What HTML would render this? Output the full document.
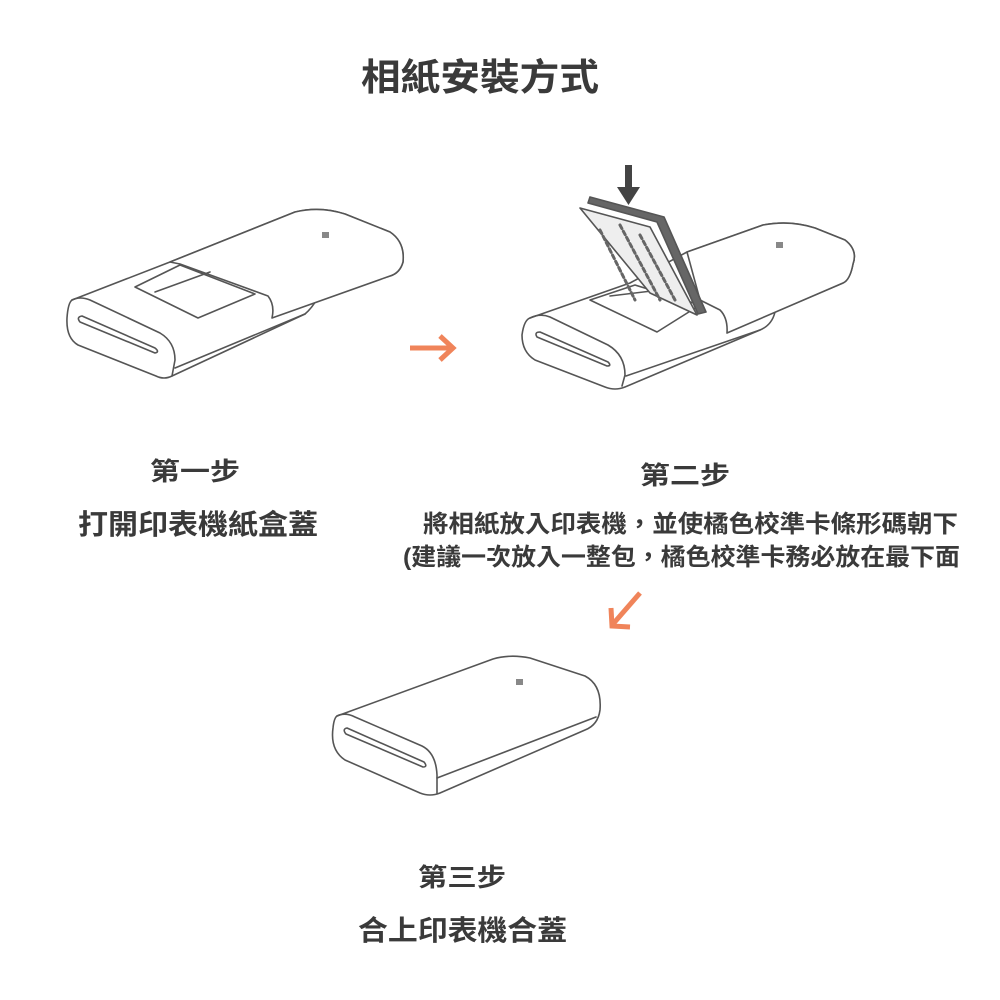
<!DOCTYPE html>
<html><head><meta charset="utf-8"><style>
html,body{margin:0;padding:0;background:#fff;}
svg{display:block;}
text{font-family:"Liberation Sans","Noto Sans CJK TC","Noto Sans CJK SC",sans-serif;font-weight:bold;fill:#3a3a3a;}
</style></head><body>
<svg width="1000" height="1000" viewBox="0 0 1000 1000" xmlns="http://www.w3.org/2000/svg">
<rect width="1000" height="1000" fill="#fff"/>
<text x="361" y="90" font-size="37" textLength="238" lengthAdjust="spacingAndGlyphs">相紙安裝方式</text>

<g fill="#fff" stroke="#555" stroke-width="1.6" stroke-linejoin="round" stroke-linecap="round">
<!-- Device 1 -->
<path d="M72,300 L170,262 L295,212 Q320,206 345,214 L390,232 Q405,242 403,262 Q400,273 390,276 L317,299 Q312,308 305,314 L172,376 Q164,380 156,376 L78,345 Q66,338 67,318 Q68,303 72,300 Z"/>
<path d="M170,262 L295,212 Q320,206 345,214 L390,232 Q405,242 403,262 Q400,273 390,276 L272,318 Q275,305 268,296 L180,264 Z"/>
<path d="M135,287 L180,265 L255,294 L198,318 Z"/>
<path d="M155,292 L210,272" fill="none"/>
<path d="M72,300 Q80,296 90,300 L160,333 Q175,342 175,360 L172,376" fill="none"/>
<path d="M175,368 L305,314" fill="none"/>
<path d="M82,316 L155,348 Q160,352 155,353 L80,322 Q76,317 82,316 Z"/>
<rect x="322" y="232" width="7" height="6" fill="#888" stroke="none"/>

<!-- Device 2 -->
<path d="M530,318 L630,283 L687,252 L763,225 Q790,220 815,228 L845,240 Q858,250 853,264 Q850,280 843,283 L775,312 Q772,325 760,330 L625,387 Q615,391 605,387 L535,360 Q522,352 522,335 Q524,320 530,318 Z"/>
<path d="M687,252 L763,225 Q790,220 815,228 L845,240 Q858,250 853,264 Q850,280 843,283 L727,333 Q728,318 720,310 L700,300 Z"/>
<path d="M590,300 L635,285 L700,305 L657,332 Z"/>
<path d="M610,296 L660,290" fill="none"/>
<path d="M530,318 Q540,313 550,317 L608,345 Q625,355 625,375 L622,386" fill="none"/>
<path d="M626,376 L760,330" fill="none"/>
<path d="M540,332 L608,362 Q612,366 607,366 L537,337 Q534,332 540,332 Z"/>
<path d="M580,208 L650,227 L697,315 L650,293 Z" fill="#eee"/>
<path d="M600,230 L635,300 M620,225 L660,300 M640,235 L675,300" stroke="#666" stroke-width="3" stroke-dasharray="4 3" fill="none"/>
<path d="M590,197 L664,217 L706,312 L698,314 L657,222 L588,203 Z" fill="#666"/>
<rect x="776" y="242" width="7" height="6" fill="#888" stroke="none"/>

<!-- Device 3 -->
<path d="M337,716 L493,659 Q510,654 530,658 L585,676 Q602,685 600,710 Q598,725 585,730 L440,793 Q430,797 420,793 L345,760 Q330,750 333,728 Q334,718 337,716 Z"/>
<path d="M337,716 Q345,712 355,717 L422,746 Q436,753 437,775 L437,793" fill="none"/>
<path d="M437,778 L596,717" fill="none"/>
<path d="M347,728 L424,762 Q428,767 423,767 L346,734 Q342,729 347,728 Z"/>
<rect x="516" y="679" width="7" height="6" fill="#888" stroke="none"/>
</g>

<!-- down arrow -->
<rect x="625" y="165" width="7" height="24" fill="#444"/>
<polygon points="617,187 640,187 628.5,205" fill="#444"/>

<!-- orange arrows -->
<g stroke="#f0845a" stroke-width="5" fill="none" stroke-linecap="butt">
<path d="M410,348 L450,348"/>
<path d="M440,336 L453,348 L440,360"/>
<path d="M640,593 L613,624"/>
<path d="M611,608 L612,626 L630,627"/>
</g>

<text x="150" y="480" font-size="25" textLength="90" lengthAdjust="spacingAndGlyphs">第一步</text>
<text x="78" y="534" font-size="28" textLength="240" lengthAdjust="spacingAndGlyphs">打開印表機紙盒蓋</text>
<text x="640" y="484" font-size="25" textLength="90" lengthAdjust="spacingAndGlyphs">第二步</text>
<text x="423" y="532" font-size="24" textLength="535" lengthAdjust="spacingAndGlyphs">將相紙放入印表機，並使橘色校準卡條形碼朝下</text>
<text x="403" y="565" font-size="24" textLength="557" lengthAdjust="spacingAndGlyphs">(建議一次放入一整包，橘色校準卡務必放在最下面</text>
<text x="418" y="886" font-size="25" textLength="88" lengthAdjust="spacingAndGlyphs">第三步</text>
<text x="358" y="940" font-size="28" textLength="209" lengthAdjust="spacingAndGlyphs">合上印表機合蓋</text>
</svg>
</body></html>
